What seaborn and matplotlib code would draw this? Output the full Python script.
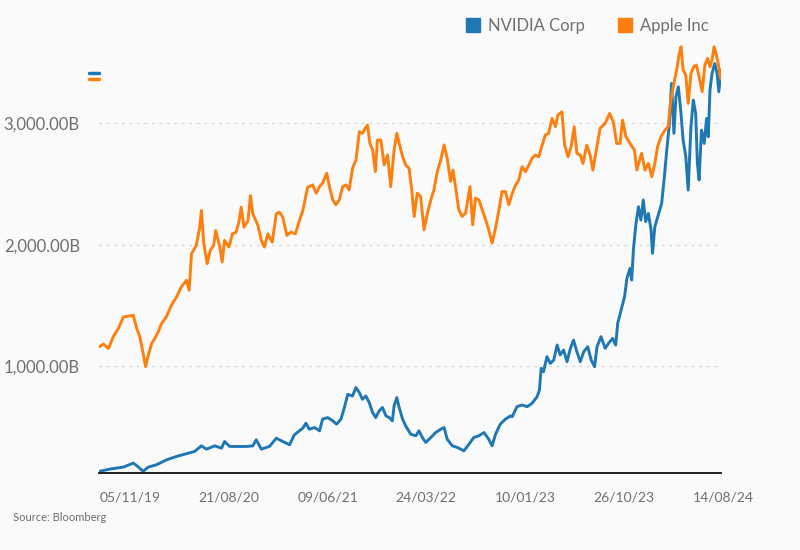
import matplotlib
matplotlib.use("Agg")
import matplotlib.pyplot as plt
import matplotlib.dates as mdates
from matplotlib.lines import Line2D
import pandas as pd
import seaborn as sns

# market cap in billions USD
nvda_dates = [
    "2019-11-05", "2019-12-07", "2020-01-15", "2020-02-13", "2020-02-28", "2020-03-13",
    "2020-03-28", "2020-04-21", "2020-05-21", "2020-06-19", "2020-07-18", "2020-08-11",
    "2020-08-31", "2020-09-15", "2020-10-09", "2020-10-29", "2020-11-07", "2020-11-22",
    "2020-12-21", "2021-01-10", "2021-01-29", "2021-02-08", "2021-02-23", "2021-03-19",
    "2021-04-08", "2021-04-27", "2021-05-17", "2021-05-31", "2021-06-25", "2021-07-04",
    "2021-07-14", "2021-07-29", "2021-08-13", "2021-08-22", "2021-09-06", "2021-09-21",
    "2021-10-02", "2021-10-15", "2021-10-25", "2021-11-04", "2021-11-18", "2021-11-28",
    "2021-12-08", "2021-12-17", "2021-12-27", "2022-01-06", "2022-01-16", "2022-01-25",
    "2022-02-04", "2022-02-14", "2022-02-24", "2022-03-06", "2022-03-15", "2022-03-20",
    "2022-03-28", "2022-04-04", "2022-04-14", "2022-04-23", "2022-05-08", "2022-05-23",
    "2022-06-01", "2022-06-11", "2022-06-21", "2022-07-06", "2022-07-20", "2022-08-04",
    "2022-08-14", "2022-08-23", "2022-09-07", "2022-09-22", "2022-10-11", "2022-10-26",
    "2022-11-09", "2022-11-24", "2022-12-09", "2022-12-23", "2023-01-02", "2023-01-12",
    "2023-01-26", "2023-02-10", "2023-02-25", "2023-03-02", "2023-03-16", "2023-03-31",
    "2023-04-15", "2023-04-29", "2023-05-14", "2023-05-21", "2023-05-26", "2023-06-02",
    "2023-06-12", "2023-06-22", "2023-07-02", "2023-07-12", "2023-07-21", "2023-07-31",
    "2023-08-10", "2023-08-20", "2023-08-29", "2023-09-08", "2023-09-18", "2023-09-28",
    "2023-10-10", "2023-10-20", "2023-10-30", "2023-11-06", "2023-11-18", "2023-11-30",
    "2023-12-10", "2023-12-22", "2023-12-31", "2024-01-06", "2024-01-16", "2024-01-26",
    "2024-02-02", "2024-02-11", "2024-02-16", "2024-02-21", "2024-02-28", "2024-03-07",
    "2024-03-14", "2024-03-21", "2024-03-28", "2024-04-05", "2024-04-13", "2024-04-17",
    "2024-04-24", "2024-05-04", "2024-05-14", "2024-05-22", "2024-05-29", "2024-06-05",
    "2024-06-12", "2024-06-19", "2024-06-25", "2024-07-02", "2024-07-09", "2024-07-16",
    "2024-07-24", "2024-07-31", "2024-08-08", "2024-08-15", "2024-08-22", "2024-08-27",
    "2024-09-01", "2024-09-08", "2024-09-16", "2024-09-23", "2024-09-28", "2024-10-03",
    "2024-10-09", "2024-10-17", "2024-10-24", "2024-10-29", "2024-11-04",
]
nvda_values = [
    132, 151, 167, 200, 167, 132,
    167, 186, 227, 255, 277, 296,
    342, 315, 342, 323, 378, 337,
    337, 337, 342, 392, 315, 337,
    405, 378, 351, 433, 488, 529,
    479, 493, 466, 562, 575, 548,
    521, 562, 658, 767, 753, 822,
    781, 726, 753, 699, 616, 575,
    630, 658, 589, 575, 548, 671,
    740, 658, 562, 507, 438, 425,
    466, 411, 370, 411, 452, 479,
    493, 397, 342, 329, 301, 356,
    411, 425, 452, 397, 342, 438,
    521, 562, 589, 582, 665, 679,
    665, 692, 747, 802, 981, 953,
    1077, 1022, 1049, 1173, 1091, 1132,
    1036, 1146, 1214, 1118, 1036, 1118,
    1159, 1049, 995, 1159, 1242, 1146,
    1187, 1228, 1173, 1352, 1462, 1571,
    1723, 1805, 1709, 1956, 2162, 2313,
    2203, 2368, 2190, 2258, 2121, 1929,
    2148, 2245, 2341, 2560, 2780, 2973,
    3330, 2918, 3220, 3302, 3110, 2863,
    2725, 2451, 2973, 3192, 3082, 2670,
    2533, 2945, 2835, 3041, 2890, 3275,
    3412, 3494, 3412, 3261, 3440,
]

aapl_dates = [
    "2019-11-05", "2019-11-17", "2019-12-02", "2019-12-16", "2019-12-31", "2020-01-15",
    "2020-01-29", "2020-02-13", "2020-02-23", "2020-03-03", "2020-03-13", "2020-03-20",
    "2020-03-28", "2020-04-07", "2020-04-16", "2020-04-26", "2020-05-06", "2020-05-20",
    "2020-06-04", "2020-06-19", "2020-07-03", "2020-07-18", "2020-07-26", "2020-08-02",
    "2020-08-16", "2020-08-26", "2020-08-31", "2020-09-07", "2020-09-17", "2020-09-26",
    "2020-10-06", "2020-10-12", "2020-10-24", "2020-10-31", "2020-11-07", "2020-11-20",
    "2020-11-30", "2020-12-11", "2020-12-19", "2020-12-26", "2021-01-03", "2021-01-15",
    "2021-01-22", "2021-01-29", "2021-02-13", "2021-02-23", "2021-03-04", "2021-03-14",
    "2021-03-27", "2021-04-08", "2021-04-17", "2021-04-27", "2021-05-09", "2021-05-21",
    "2021-06-03", "2021-06-15", "2021-06-25", "2021-07-09", "2021-07-14", "2021-07-24",
    "2021-08-03", "2021-08-13", "2021-08-22", "2021-09-03", "2021-09-11", "2021-09-21",
    "2021-09-30", "2021-10-10", "2021-10-20", "2021-10-30", "2021-11-08", "2021-11-18",
    "2021-11-28", "2021-12-08", "2021-12-17", "2021-12-25", "2022-01-01", "2022-01-08",
    "2022-01-16", "2022-01-24", "2022-01-30", "2022-02-09", "2022-02-19", "2022-03-01",
    "2022-03-10", "2022-03-20", "2022-03-28", "2022-04-04", "2022-04-14", "2022-04-23",
    "2022-05-03", "2022-05-11", "2022-05-18", "2022-05-27", "2022-06-06", "2022-06-16",
    "2022-06-26", "2022-07-06", "2022-07-15", "2022-07-25", "2022-08-04", "2022-08-14",
    "2022-08-23", "2022-09-02", "2022-09-09", "2022-09-17", "2022-09-26", "2022-10-06",
    "2022-10-16", "2022-10-29", "2022-11-06", "2022-11-14", "2022-11-24", "2022-12-04",
    "2022-12-14", "2022-12-23", "2023-01-02", "2023-01-12", "2023-01-22", "2023-01-31",
    "2023-02-10", "2023-02-20", "2023-03-02", "2023-03-12", "2023-03-21", "2023-03-31",
    "2023-04-10", "2023-04-20", "2023-04-29", "2023-05-09", "2023-05-19", "2023-05-29",
    "2023-06-07", "2023-06-17", "2023-06-27", "2023-07-07", "2023-07-14", "2023-07-26",
    "2023-08-03", "2023-08-13", "2023-08-22", "2023-08-31", "2023-09-08", "2023-09-18",
    "2023-09-26", "2023-10-07", "2023-10-17", "2023-10-25", "2023-11-04", "2023-11-15",
    "2023-11-30", "2023-12-13", "2023-12-24", "2024-01-03", "2024-01-13", "2024-01-20",
    "2024-01-30", "2024-02-11", "2024-02-24", "2024-03-02", "2024-03-12", "2024-03-16",
    "2024-03-26", "2024-04-05", "2024-04-15", "2024-04-24", "2024-05-02", "2024-05-12",
    "2024-05-24", "2024-06-02", "2024-06-10", "2024-06-17", "2024-06-27", "2024-07-04",
    "2024-07-10", "2024-07-16", "2024-07-24", "2024-07-31", "2024-08-08", "2024-08-16",
    "2024-08-24", "2024-09-01", "2024-09-10", "2024-09-18", "2024-09-26", "2024-10-03",
    "2024-10-09", "2024-10-15", "2024-10-22", "2024-10-27", "2024-11-03",
]
aapl_values = [
    1159, 1181, 1145, 1241, 1310, 1405,
    1411, 1419, 1310, 1241, 1104, 995,
    1090, 1186, 1227, 1282, 1351, 1405,
    1501, 1570, 1652, 1707, 1625, 1926,
    1995, 2145, 2282, 2008, 1844, 1953,
    1995, 2118, 1981, 1858, 2036, 1981,
    2090, 2104, 2186, 2310, 2145, 2200,
    2405, 2255, 2159, 2036, 1981, 2090,
    2022, 2255, 2268, 2227, 2077, 2104,
    2090, 2200, 2282, 2474, 2479, 2493,
    2425, 2479, 2507, 2589, 2479, 2370,
    2329, 2370, 2479, 2493, 2452, 2630,
    2699, 2932, 2918, 2959, 2986, 2836,
    2781, 2603, 2863, 2863, 2658, 2740,
    2479, 2781, 2918, 2836, 2726, 2658,
    2630, 2452, 2233, 2425, 2397, 2123,
    2260, 2370, 2452, 2603, 2699, 2822,
    2712, 2521, 2616, 2466, 2288, 2233,
    2260, 2479, 2164, 2384, 2370, 2288,
    2205, 2123, 2014, 2137, 2288, 2438,
    2438, 2330, 2423, 2492, 2533, 2643,
    2602, 2657, 2712, 2739, 2725, 2821,
    2904, 2918, 3041, 2973, 3069, 3096,
    2821, 2725, 2808, 2973, 2753, 2739,
    2670, 2821, 2739, 2615, 2780, 2959,
    3000, 3082, 3014, 2835, 2835, 3027,
    2890, 2835, 2780, 2615, 2712, 2753,
    2615, 2670, 2560, 2670, 2808, 2890,
    2945, 2973, 3192, 3302, 3440, 3563,
    3632, 3440, 3398, 3165, 3412, 3467,
    3481, 3385, 3261, 3481, 3536, 3467,
    3522, 3632, 3563, 3494, 3371,
]

series_names = ["NVIDIA Corp", "Apple Inc"]
tick_dates = ["2019-11-05", "2020-08-21", "2021-06-09", "2022-03-24",
              "2023-01-10", "2023-10-26", "2024-08-14"]
y_ticks = [1000, 2000, 3000]

BLUE = "#1f77b4"
ORANGE = "#ff7f0e"
BG = "#fafafa"
TEXT = "#6f6f6f"


def build_frame():
    nvda = pd.DataFrame({"date": pd.to_datetime(nvda_dates), "cap": nvda_values,
                         "company": series_names[0]})
    aapl = pd.DataFrame({"date": pd.to_datetime(aapl_dates), "cap": aapl_values,
                         "company": series_names[1]})
    return pd.concat([nvda, aapl], ignore_index=True)


def main():
    sns.set_theme(style="white")
    plt.rcParams["font.family"] = ["Lato", "DejaVu Sans"]

    df = build_frame()

    fig = plt.figure(figsize=(8, 5.5), dpi=100, facecolor=BG)
    ax = fig.add_axes([0.1241, 0.1395, 0.777, 0.7905])
    ax.set_facecolor(BG)

    sns.lineplot(data=df, x="date", y="cap", hue="company", hue_order=series_names,
                 palette=[BLUE, ORANGE], estimator=None, linewidth=2.1,
                 legend=False, ax=ax)

    ax.set_xlim(df["date"].min(), df["date"].max())
    ax.set_ylim(116, 3700)

    ax.set_yticks(y_ticks)
    ax.set_yticklabels([f"{v:,.2f}B" for v in y_ticks])
    ax.yaxis.grid(True, color="#d6d6d6", linestyle=(0, (2, 4)), linewidth=0.9)
    ax.tick_params(axis="y", length=0, pad=14, labelsize=12, labelcolor=TEXT)

    ticks = pd.to_datetime(tick_dates)
    ax.set_xticks(ticks)
    ax.xaxis.set_major_formatter(mdates.DateFormatter("%d/%m/%y"))
    ax.tick_params(axis="x", length=6, width=0.8, color="#cccccc", pad=7,
                   labelsize=10, labelcolor=TEXT)
    for lbl in ax.get_xticklabels():
        lbl.set_horizontalalignment("left")

    for side in ["top", "right", "left"]:
        ax.spines[side].set_visible(False)
    ax.spines["bottom"].set_color("#111111")
    ax.spines["bottom"].set_linewidth(1.3)
    ax.set_xlabel("")
    ax.set_ylabel("")

    # legend across the top
    handles = [Line2D([], [], linestyle="none", marker="s", markersize=10,
                      markerfacecolor=c, markeredgecolor=c) for c in [BLUE, ORANGE]]
    fig.legend(handles, series_names, loc="upper right", ncol=2, frameon=False,
               bbox_to_anchor=(0.905, 0.994), fontsize=12, labelcolor=TEXT,
               handletextpad=0.4, columnspacing=1.9, handlelength=1.0)

    # little colour key left of the plot
    fig.add_artist(Line2D([0.111, 0.124], [0.868, 0.868], color=BLUE, linewidth=2.5))
    fig.add_artist(Line2D([0.111, 0.124], [0.857, 0.857], color=ORANGE, linewidth=2.5))

    fig.text(0.016, 0.052, "Source: Bloomberg", fontsize=8, color=TEXT)

    fig.savefig("out.png", dpi=100, facecolor=BG)
    plt.close(fig)


if __name__ == "__main__":
    main()
